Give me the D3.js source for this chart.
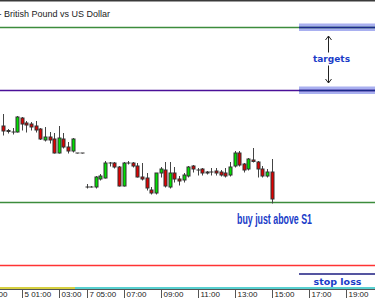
<!DOCTYPE html>
<html>
<head>
<meta charset="utf-8">
<script src="https://cdn.jsdelivr.net/npm/d3@7"></script>
<style>
body { margin: 0; background: #ffffff; }
#chart svg { display: block; }
</style>
</head>
<body>
<div id="chart"></div>
<script>
// GBPUSD M15 candles
var opens  = [1.6174,1.61695,1.6168,1.6168,1.6182,1.6177,1.6176,1.6174,1.6171,1.6160,
              1.6163,1.6161,1.6147,1.6161,1.6153,1.6149,1.6147,1.6147,1.6113,1.6113,
              1.6113,1.6121,1.6122,1.6137,1.6137,1.6133,1.6114,1.6137,1.6137,1.6134,
              1.6123,1.6122,1.6110,1.6107,1.6127,1.6130,1.6113,1.6127,1.6121,1.6120,
              1.6124,1.6134,1.6130,1.6131,1.6128,1.6128,1.6129,1.6128,1.6127,1.6125,
              1.6134,1.6147,1.6136,1.6131,1.6140,1.6138,1.6131,1.6124,1.6128];
var highs  = [1.6186,1.6171,1.6172,1.6184,1.6183,1.6179,1.6178,1.6179,1.6172,1.6173,
              1.6168,1.6167,1.6174,1.6167,1.6158,1.6162,1.6147,1.6147,1.6116,1.6114,
              1.6124,1.6126,1.6139,1.6138,1.6138,1.6134,1.6138,1.6139,1.6138,1.6137,
              1.6137,1.6127,1.6113,1.6127,1.6133,1.6138,1.6138,1.6133,1.6124,1.6127,
              1.6134,1.6135,1.6132,1.6132,1.6129,1.6132,1.6132,1.6130,1.6132,1.6138,
              1.6149,1.6149,1.6137,1.6142,1.6152,1.6139,1.6134,1.6131,1.6141];
var lows   = [1.6165,1.6167,1.6166,1.6168,1.6170,1.6168,1.6170,1.6168,1.61605,1.6159,
              1.6157,1.6147,1.6147,1.6152,1.6147,1.6148,1.6147,1.6147,1.6112,1.6113,
              1.6112,1.6120,1.6122,1.6134,1.6132,1.6114,1.6114,1.6136,1.6133,1.6123,
              1.6120,1.6110,1.6106,1.6106,1.6123,1.6113,1.6112,1.6118,1.6115,1.6118,
              1.6123,1.6128,1.6125,1.6125,1.6126,1.6125,1.6125,1.6124,1.6123,1.6124,
              1.6133,1.6134,1.6128,1.6130,1.6138,1.6123,1.6123,1.6123,1.6097];
var closes = [1.6169,1.61685,1.6168,1.6183,1.6176,1.6175,1.6173,1.6170,1.6161,1.6163,
              1.6160,1.6147,1.6162,1.6153,1.6149,1.6161,1.6147,1.6147,1.6113,1.6113,
              1.6123,1.6124,1.6137,1.6137,1.6133,1.6114,1.6137,1.6137,1.6134,1.6123,
              1.6121,1.6112,1.6107,1.6127,1.6131,1.6114,1.6127,1.6121,1.6119,1.6125,
              1.6133,1.6131,1.6130,1.6127,1.6127,1.6128,1.6127,1.6125,1.6124,1.6133,
              1.6147,1.6135,1.6130,1.6141,1.61385,1.6131,1.6124,1.6128,1.6101];

// horizontal levels
var targetLevels = [1.6273, 1.6210];
var targetColors = ["#3c8c3c", "#4a1098"];
var supportLevel = 1.60985;
var stopLevel = 1.6035;
var stopMarkLevel = 1.6026;

// time axis: bar index of each label
var tickBars   = [-4, 4, 12, 18, 26, 34, 42, 50, 58, 66, 74];
var tickLabels = ["23:00", "5 01:00", "03:00", "7 05:00", "07:00", "09:00", "11:00", "13:00", "15:00", "17:00", "19:00"];

drawChart();

function drawChart()
{
	var width = 375, height = 298;

	var svg = d3.select("#chart").append("svg")
		.attr("width", width)
		.attr("height", height);

	var x = d3.scaleLinear().domain([0, 80]).range([3.3, 3.3 + 80 * 4.625]);
	var y = d3.scaleLinear().domain([1.6002, 1.6300]).range([298, 0]);

	// top border
	svg.append("rect").attr("x", 0).attr("y", 0).attr("width", width).attr("height", 1.5).style("fill", "#3a3a3a");

	// title
	svg.append("text")
		.attr("x", -1.5).attr("y", 17)
		.style("font-family", "Liberation Sans, Arial, sans-serif")
		.style("font-size", "9px")
		.style("fill", "#222")
		.text("- British Pound vs US Dollar");

	// target bands on the right
	svg.selectAll(".band")
		.data(targetLevels)
		.enter().append("rect")
		.attr("class", "band")
		.attr("x", 299).attr("width", 76)
		.attr("y", function(d) { return y(d) - 3.5; })
		.attr("height", 7.5)
		.style("fill", "#a9b0f0");

	svg.selectAll(".target")
		.data(targetLevels)
		.enter().append("line")
		.attr("class", "target")
		.attr("x1", 0).attr("x2", width)
		.attr("y1", function(d) { return Math.round(y(d)) + 0.5; })
		.attr("y2", function(d) { return Math.round(y(d)) + 0.5; })
		.style("stroke", function(d, i) { return targetColors[i]; })
		.style("stroke-width", 1.4);

	svg.selectAll(".targetDark")
		.data(targetLevels)
		.enter().append("line")
		.attr("x1", 299).attr("x2", width)
		.attr("y1", function(d) { return Math.round(y(d)) + 0.5; })
		.attr("y2", function(d) { return Math.round(y(d)) + 0.5; })
		.style("stroke", "#1c2a8a")
		.style("stroke-width", 1.4);

	// arrows and label between the targets
	var ax = 328.5;
	var mid = (y(targetLevels[0]) + y(targetLevels[1])) / 2;
	var arrow = svg.append("g").style("stroke", "#222").style("fill", "none").style("stroke-width", 1);
	arrow.append("line").attr("x1", ax).attr("x2", ax).attr("y1", y(targetLevels[0]) + 9).attr("y2", mid - 6);
	arrow.append("path").attr("d", "M" + (ax - 3) + "," + (y(targetLevels[0]) + 13) + "L" + ax + "," + (y(targetLevels[0]) + 9) + "L" + (ax + 3) + "," + (y(targetLevels[0]) + 13));
	arrow.append("line").attr("x1", ax).attr("x2", ax).attr("y1", mid + 7).attr("y2", y(targetLevels[1]) - 7);
	arrow.append("path").attr("d", "M" + (ax - 3) + "," + (y(targetLevels[1]) - 11) + "L" + ax + "," + (y(targetLevels[1]) - 7) + "L" + (ax + 3) + "," + (y(targetLevels[1]) - 11));

	svg.append("text")
		.attr("x", 331.5).attr("y", mid + 3.5)
		.attr("text-anchor", "middle")
		.style("font-family", "DejaVu Sans, sans-serif")
		.style("font-weight", "bold")
		.style("font-size", "9px")
		.style("fill", "#1a3cc8")
		.text("targets");

	// support line
	svg.append("line")
		.attr("x1", 0).attr("x2", width)
		.attr("y1", Math.round(y(supportLevel)) + 0.5).attr("y2", Math.round(y(supportLevel)) + 0.5)
		.style("stroke", "#3c8c3c").style("stroke-width", 1.4);

	svg.append("text")
		.attr("x", 237).attr("y", 223.5)
		.attr("textLength", 75).attr("lengthAdjust", "spacingAndGlyphs")
		.style("font-family", "Liberation Sans Narrow, Arial Narrow, Liberation Sans, sans-serif")
		.style("font-weight", "bold")
		.style("font-size", "14px")
		.style("fill", "#1a3cc8")
		.text("buy just above S1");

	// stop line
	svg.append("line")
		.attr("x1", 0).attr("x2", width)
		.attr("y1", Math.round(y(stopLevel)) + 0.5).attr("y2", Math.round(y(stopLevel)) + 0.5)
		.style("stroke", "#ff3333").style("stroke-width", 1.4);

	svg.append("line")
		.attr("x1", 299).attr("x2", width)
		.attr("y1", y(stopMarkLevel)).attr("y2", y(stopMarkLevel))
		.style("stroke", "#1c1c80").style("stroke-width", 1.6);

	svg.append("text")
		.attr("x", 337.5).attr("y", 285)
		.attr("text-anchor", "middle")
		.style("font-family", "DejaVu Sans, sans-serif")
		.style("font-weight", "bold")
		.style("font-size", "9.5px")
		.style("fill", "#1a3cc8")
		.text("stop loss");

	// candles
	var bars = d3.range(opens.length);
	var candle = svg.append("g").attr("class", "candles")
		.selectAll("g")
		.data(bars)
		.enter().append("g");

	candle.append("line")
		.attr("x1", function(i) { return Math.round(x(i)) + 0.5; })
		.attr("x2", function(i) { return Math.round(x(i)) + 0.5; })
		.attr("y1", function(i) { return y(highs[i]); })
		.attr("y2", function(i) { return y(lows[i]) + 0.5; })
		.style("stroke", "#444")
		.style("stroke-width", 1);

	candle.append("rect")
		.attr("x", function(i) { return Math.round(x(i)) - 1; })
		.attr("width", 3)
		.attr("y", function(i) { return y(Math.max(opens[i], closes[i])); })
		.attr("height", function(i) { return Math.max(0.01, y(Math.min(opens[i], closes[i])) - y(Math.max(opens[i], closes[i]))); })
		.style("fill", function(i) { return closes[i] > opens[i] ? "#00e000" : "#e00000"; })
		.style("stroke", "#333")
		.style("stroke-width", 1);

	// time axis
	svg.append("line").attr("x1", 0).attr("x2", 75).attr("y1", 288).attr("y2", 288)
		.style("stroke", "#c8c000").style("stroke-width", 1.5);
	svg.append("line").attr("x1", 75).attr("x2", width).attr("y1", 288).attr("y2", 288)
		.style("stroke", "#20c0c0").style("stroke-width", 1.5);
	svg.append("line").attr("x1", 0).attr("x2", width).attr("y1", 289.5).attr("y2", 289.5)
		.style("stroke", "#555").style("stroke-width", 1);

	var tick = svg.append("g").selectAll("g")
		.data(tickBars)
		.enter().append("g")
		.attr("transform", function(d) { return "translate(" + (Math.round(x(d)) + 0.5) + ",0)"; });

	tick.append("line")
		.attr("y1", 290).attr("y2", 298)
		.style("stroke", "#555");

	tick.append("text")
		.attr("x", 2).attr("y", 297)
		.style("font-family", "Liberation Sans, Arial, sans-serif")
		.style("font-size", "8px")
		.style("fill", "#222")
		.text(function(d, i) { return tickLabels[i]; });
}
</script>
</body>
</html>
